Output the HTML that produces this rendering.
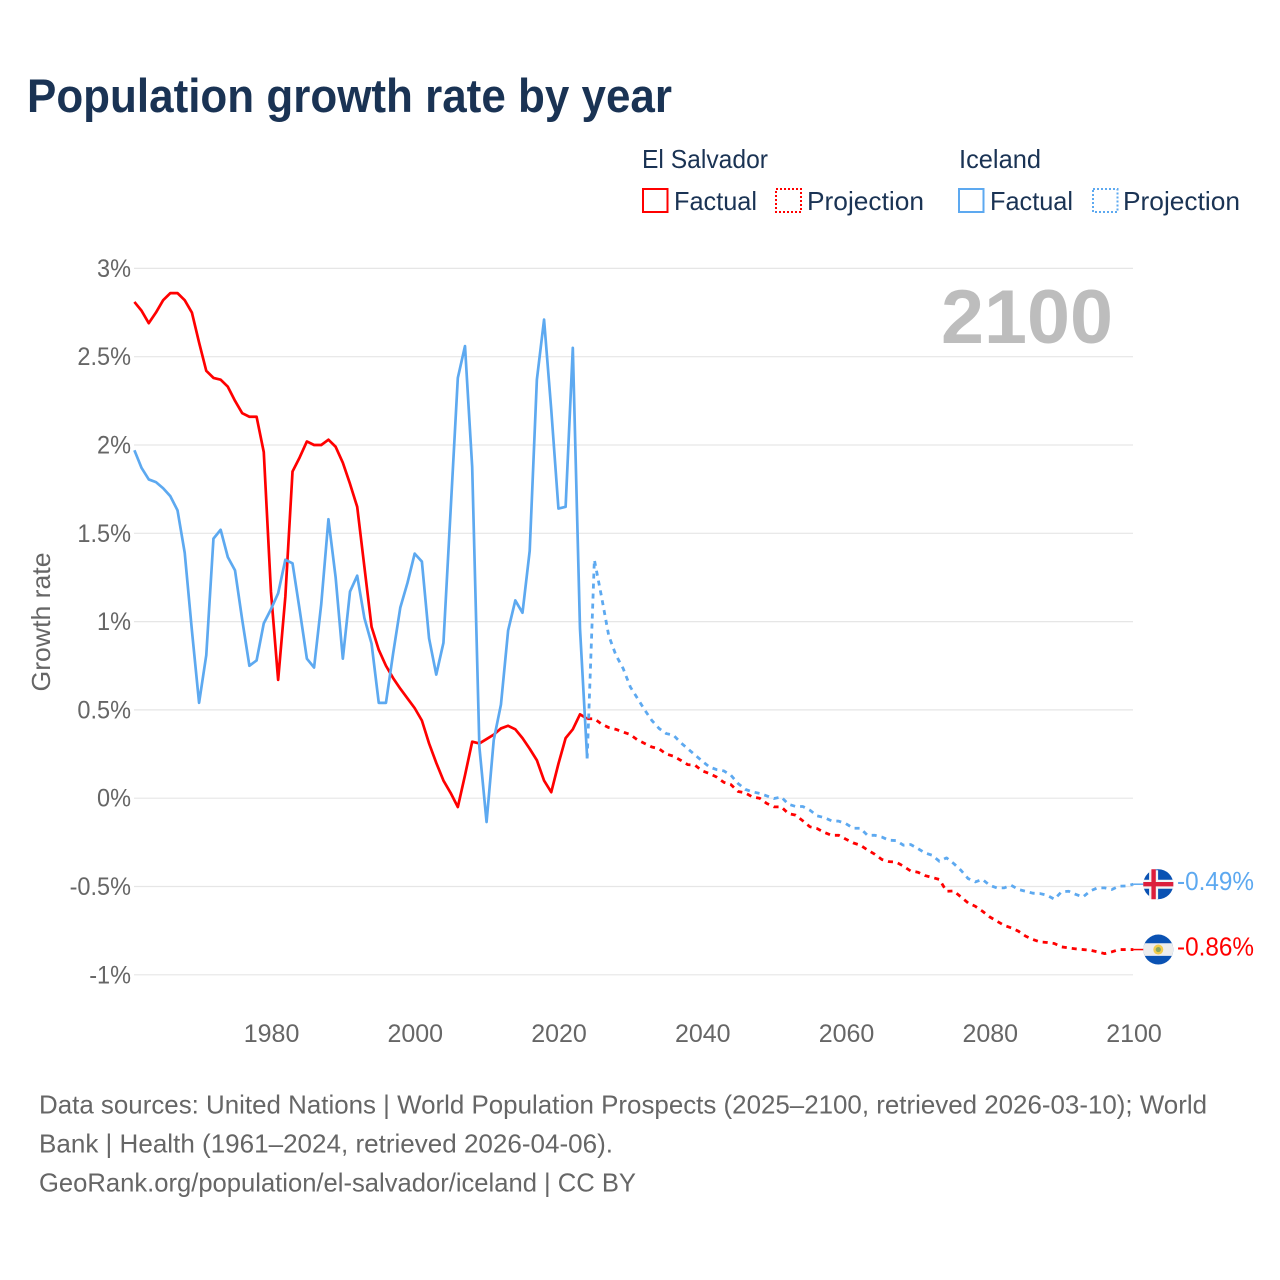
<!DOCTYPE html>
<html lang="en">
<head>
<meta charset="utf-8">
<title>Population growth rate by year</title>
<style>
  html, body { margin: 0; padding: 0; background: #fff; }
  svg { display: block; font-family: "Liberation Sans", sans-serif; }
</style>
</head>
<body>
<svg id="chart" xmlns="http://www.w3.org/2000/svg" width="1280" height="1280" viewBox="0 0 1280 1280">
  <rect x="0" y="0" width="1280" height="1280" fill="#ffffff"/>
  <text x="27" y="112" font-size="47" font-weight="700" fill="#1a3354" textLength="645" lengthAdjust="spacingAndGlyphs">Population growth rate by year</text>

  <g font-size="26" fill="#1a3354">
    <text x="642" y="168" textLength="126" lengthAdjust="spacingAndGlyphs">El Salvador</text>
    <text x="959" y="168" textLength="82" lengthAdjust="spacingAndGlyphs">Iceland</text>
    <rect x="643" y="189" width="24.5" height="23" fill="none" stroke="#ff0000" stroke-width="2"/>
    <text x="674" y="210" textLength="83" lengthAdjust="spacingAndGlyphs">Factual</text>
    <rect x="776" y="189" width="25" height="23" fill="none" stroke="#ff0000" stroke-width="2" stroke-dasharray="2 2"/>
    <text x="807" y="210" textLength="117" lengthAdjust="spacingAndGlyphs">Projection</text>
    <rect x="959" y="189" width="24.5" height="23" fill="none" stroke="#5da9f0" stroke-width="2"/>
    <text x="990" y="210" textLength="83" lengthAdjust="spacingAndGlyphs">Factual</text>
    <rect x="1093" y="189" width="24.5" height="23" fill="none" stroke="#5da9f0" stroke-width="2" stroke-dasharray="2 2"/>
    <text x="1123" y="210" textLength="117" lengthAdjust="spacingAndGlyphs">Projection</text>
  </g>

  <text transform="translate(50,622) rotate(-90)" text-anchor="middle" font-size="26" fill="#666666" textLength="139" lengthAdjust="spacingAndGlyphs">Growth rate</text>

  <g id="grid"></g>
  <g id="yticks"></g>
  <g id="xticks"></g>

  <text x="941" y="343" font-size="76" font-weight="700" fill="#bdbdbd" textLength="172" lengthAdjust="spacingAndGlyphs">2100</text>

  <g id="series"></g>
  <g id="endmarks"></g>

  <g font-size="26" fill="#666666">
    <text x="39" y="1113.5" textLength="1168" lengthAdjust="spacingAndGlyphs">Data sources: United Nations | World Population Prospects (2025–2100, retrieved 2026-03-10); World</text>
    <text x="39" y="1152.5" textLength="574" lengthAdjust="spacingAndGlyphs">Bank | Health (1961–2024, retrieved 2026-04-06).</text>
    <text x="39" y="1191.5" textLength="597" lengthAdjust="spacingAndGlyphs">GeoRank.org/population/el-salvador/iceland | CC BY</text>
  </g>
</svg>

<script>
const factualFirstYear = 1961;
const projectionFirstYear = 2024;
const xTickYears = [1980, 2000, 2020, 2040, 2060, 2080, 2100];
const yTickValues = [3, 2.5, 2, 1.5, 1, 0.5, 0, -0.5, -1];

const elSalvadorFactual = [
  2.81, 2.76, 2.69, 2.75, 2.82, 2.86, 2.86, 2.82, 2.75, 2.58,
  2.42, 2.38, 2.37, 2.33, 2.25, 2.18, 2.16, 2.16, 1.96, 1.17,
  0.67, 1.14, 1.85, 1.93, 2.02, 2.00, 2.00, 2.03, 1.99, 1.90,
  1.78, 1.65, 1.31, 0.97, 0.84, 0.75, 0.68, 0.62, 0.565, 0.51,
  0.44, 0.31, 0.20, 0.10, 0.03, -0.05, 0.13, 0.32, 0.31, 0.335,
  0.36, 0.395, 0.41, 0.39, 0.34, 0.28, 0.215, 0.10, 0.034, 0.195,
  0.34, 0.39, 0.475, 0.45
];
const icelandFactual = [
  1.97, 1.87, 1.805, 1.79, 1.755, 1.71, 1.63, 1.39, 0.95, 0.54,
  0.81, 1.47, 1.52, 1.365, 1.29, 1.01, 0.75, 0.78, 0.99, 1.07,
  1.16, 1.35, 1.33, 1.065, 0.79, 0.74, 1.10, 1.58, 1.25, 0.79,
  1.17, 1.26, 1.02, 0.875, 0.54, 0.54, 0.82, 1.08, 1.22, 1.385,
  1.34, 0.905, 0.70, 0.88, 1.63, 2.38, 2.56, 1.875, 0.29, -0.135,
  0.33, 0.53, 0.95, 1.12, 1.05, 1.40, 2.37, 2.71, 2.20, 1.64,
  1.65, 2.55, 0.96, 0.225
];
const elSalvadorProjection = [
  0.45, 0.45, 0.42, 0.40, 0.39, 0.375, 0.36, 0.33, 0.31, 0.29,
  0.28, 0.25, 0.238, 0.215, 0.19, 0.187, 0.155, 0.14, 0.12, 0.09,
  0.077, 0.038, 0.03, 0.007, 0, -0.03, -0.049, -0.049, -0.087, -0.096,
  -0.128, -0.162, -0.172, -0.194, -0.21, -0.21, -0.232, -0.253, -0.266, -0.293,
  -0.317, -0.347, -0.359, -0.362, -0.385, -0.412, -0.419, -0.438, -0.449, -0.46,
  -0.527, -0.525, -0.559, -0.593, -0.612, -0.64, -0.672, -0.696, -0.72, -0.734,
  -0.753, -0.781, -0.80, -0.814, -0.817, -0.823, -0.842, -0.848, -0.853, -0.857,
  -0.861, -0.87, -0.88, -0.87, -0.857, -0.857, -0.857
];
const icelandProjection = [
  0.225, 1.35, 1.14, 0.92, 0.81, 0.735, 0.63, 0.565, 0.50, 0.44,
  0.395, 0.366, 0.357, 0.315, 0.28, 0.245, 0.21, 0.177, 0.162, 0.155,
  0.13, 0.083, 0.05, 0.036, 0.027, 0.013, -0.002, 0.007, -0.034, -0.047,
  -0.047, -0.068, -0.10, -0.11, -0.128, -0.13, -0.144, -0.17, -0.17, -0.21,
  -0.21, -0.22, -0.238, -0.24, -0.266, -0.262, -0.285, -0.31, -0.323, -0.357,
  -0.338, -0.37, -0.408, -0.455, -0.474, -0.46, -0.493, -0.508, -0.508, -0.493,
  -0.517, -0.527, -0.538, -0.54, -0.55, -0.572, -0.53, -0.527, -0.545, -0.559,
  -0.525, -0.508, -0.508, -0.517, -0.498, -0.497, -0.487
];

const NS = 'http://www.w3.org/2000/svg';
const RED = '#ff0000';
const BLUE = '#5da9f0';

function xScale(year) { return 134.4 + (year - 1961) * (1133.4 - 134.4) / (2100 - 1961); }
function yScale(value) { return 798.2 - value * 176.6; }

function make(tag, parent) {
  const el = document.createElementNS(NS, tag);
  parent.appendChild(el);
  return el;
}
function pathFor(values, firstYear) {
  return values.map(function (v, i) {
    return (i ? 'L' : 'M') + xScale(firstYear + i).toFixed(2) + ' ' + yScale(v).toFixed(2);
  }).join(' ');
}
function pctLabel(v) { return String(v) + '%'; }

const grid = document.getElementById('grid');
const yticks = document.getElementById('yticks');
const xticks = document.getElementById('xticks');
const series = document.getElementById('series');
const endmarks = document.getElementById('endmarks');

yTickValues.forEach(function (v) {
  const line = make('line', grid);
  
  
  line.setAttribute('x1', 134);
  line.setAttribute('x2', 1133);
  line.setAttribute('y1', yScale(v));
  line.setAttribute('y2', yScale(v));
  line.setAttribute('stroke', '#e6e6e6');
  line.setAttribute('stroke-width', '1.2');

  const label = make('text', yticks);
  
  
  label.setAttribute('x', 131);
  label.setAttribute('y', yScale(v) + 8.5);
  label.setAttribute('text-anchor', 'end');
  label.setAttribute('font-size', '25');
  label.setAttribute('fill', '#666666');
  label.textContent = pctLabel(v);
  label.setAttribute('textLength', (label.getComputedTextLength() * 0.94).toFixed(1));
  label.setAttribute('lengthAdjust', 'spacingAndGlyphs');
});

xTickYears.forEach(function (year) {
  const label = make('text', xticks);
  
  
  label.setAttribute('x', xScale(year) + 0.6);
  label.setAttribute('y', 1042);
  label.setAttribute('text-anchor', 'middle');
  label.setAttribute('font-size', '25');
  label.setAttribute('fill', '#666666');
  label.textContent = String(year);
});

function drawLine(values, firstYear, color, dashed) {
  const p = make('path', series);
  p.setAttribute('d', pathFor(values, firstYear));
  p.setAttribute('fill', 'none');
  p.setAttribute('stroke', color);
  p.setAttribute('stroke-width', dashed ? '2.8' : '2.7');
  p.setAttribute('stroke-linejoin', 'round');
  if (dashed) p.setAttribute('stroke-dasharray', '5 5');
  return p;
}

const lineA = drawLine(elSalvadorFactual, factualFirstYear, RED, false);


const lineB = drawLine(elSalvadorProjection, projectionFirstYear, RED, true);


const lineC = drawLine(icelandFactual, factualFirstYear, BLUE, false);


const lineD = drawLine(icelandProjection, projectionFirstYear, BLUE, true);



function drawEnd(values, color, drawFlag) {
  const last = values[values.length - 1];
  const cy = yScale(last);
  const leader = make('line', endmarks);
  leader.setAttribute('x1', 1133.4);
  leader.setAttribute('x2', 1144);
  leader.setAttribute('y1', cy);
  leader.setAttribute('y2', cy);
  leader.setAttribute('stroke', color);
  leader.setAttribute('stroke-width', '1.5');
  const g = make('g', endmarks);
  g.setAttribute('transform', 'translate(1158.3,' + cy + ')');
  drawFlag(g);
  const t = make('text', endmarks);
  t.setAttribute('x', 1177);
  t.setAttribute('y', cy + 6);
  t.setAttribute('font-size', '26');
  t.setAttribute('fill', color);
  t.setAttribute('textLength', '77');
  t.setAttribute('lengthAdjust', 'spacingAndGlyphs');
  t.textContent = last.toFixed(2) + '%';
  return { leader: leader, flag: g, label: t };
}
function part(g, tag, attrs) {
  const el = make(tag, g);
  Object.keys(attrs).forEach(function (k) { el.setAttribute(k, attrs[k]); });
  return el;
}
function icelandFlag(g) {
  part(g, 'circle', { r: 15, fill: '#0a52b3' });
  part(g, 'path', { d: 'M-15 -4.5H-9.2V-14H-0.2V-4.5H15V4.5H-0.2V14.8H-9.2V4.5H-15Z', fill: '#f4f4f4' });
  part(g, 'path', { d: 'M-15 -2.2H-6.9V-15H-2.5V-2.2H15V2.2H-2.5V15H-6.9V2.2H-15Z', fill: '#dc1e3c' });
}
function elSalvadorFlag(g) {
  part(g, 'circle', { r: 15, fill: '#0a52b3' });
  part(g, 'path', { d: 'M-13.6 -6.3H13.6A15 15 0 0 1 13.6 6.3H-13.6A15 15 0 0 1 -13.6 -6.3Z', fill: '#ededed' });
  part(g, 'circle', { r: 5, fill: '#f1cc4d' });
  part(g, 'circle', { r: 2.6, fill: '#8aa65a' });
}

const endEs = drawEnd(elSalvadorProjection, RED, elSalvadorFlag);







const endIs = drawEnd(icelandProjection, BLUE, icelandFlag);






</script>
</body>
</html>
